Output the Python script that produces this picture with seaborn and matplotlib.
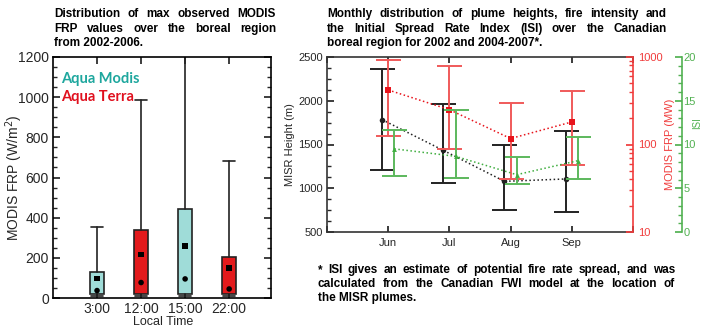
import numpy as np
import pandas as pd
import matplotlib
matplotlib.use('Agg')
import matplotlib.pyplot as plt
from matplotlib.ticker import MultipleLocator, FixedLocator, LogLocator, NullFormatter
import seaborn as sns

# left panel: max FRP box statistics per overpass time
times = ['3:00', '12:00', '15:00', '22:00']
sensor = ['Aqua Modis', 'Aqua Terra', 'Aqua Modis', 'Aqua Terra']
frp_whislo = [8, 8, 8, 8]
frp_q1 = [18, 18, 20, 18]
frp_q3 = [130, 338, 444, 203]
frp_whishi = [355, 985, 1300, 680]
frp_mean = [98, 216, 258, 150]
frp_median = [37, 77, 95, 45]

# right panel: monthly values with error ranges
months = ['Jun', 'Jul', 'Aug', 'Sep']
misr_mean = [1784, 1433, 1079, 1106]
misr_lo = [1209, 1060, 748, 725]
misr_hi = [2363, 1967, 1498, 1650]
modis_mean = [420, 250, 117, 181]
modis_lo = [124, 90, 40, 59]
modis_hi = [916, 782, 295, 408]
isi_mean = [9.5, 8.65, 6.55, 8.15]
isi_lo = [6.4, 6.2, 5.5, 6.1]
isi_hi = [11.7, 13.9, 8.6, 10.9]

left_title = ['Distribution of max observed MODIS',
              'FRP values over the boreal region',
              'from 2002-2006.']
right_title = ['Monthly distribution of plume heights, fire intensity and',
               'the Initial Spread Rate Index (ISI) over the Canadian',
               'boreal region for 2002 and 2004-2007*.']
footnote = ['* ISI gives an estimate of potential fire rate spread, and was',
            'calculated from the Canadian FWI model at the location of',
            'the MISR plumes.']

TEAL = '#9fdcd8'
RED = '#e31a1c'
TEAL_TXT = '#1ea79e'
RED_TXT = '#e0101e'
FRP_RED = '#f03c3c'
ISI_GREEN = '#52b152'

sns.set_theme(style='ticks')
plt.rcParams['font.family'] = ['Liberation Sans', 'DejaVu Sans']
plt.rcParams['xtick.direction'] = 'in'
plt.rcParams['ytick.direction'] = 'in'

W, H = 701, 329
fig = plt.figure(figsize=(W / 100, H / 100), dpi=100)


def px_axes(x0, y0, x1, y1):
    return fig.add_axes([x0 / W, 1 - y1 / H, (x1 - x0) / W, (y1 - y0) / H])


def justify(lines, x0, x1, ys, size=8.5):
    r = fig.canvas.get_renderer()
    for i, (line, y) in enumerate(zip(lines, ys)):
        kw = dict(fontsize=size, fontweight='bold', va='center', color='black')
        if i == len(lines) - 1:
            fig.text(x0 / W, 1 - y / H, line, **kw)
            continue
        words = line.split()
        ts = [fig.text(0, 1 - y / H, w, **kw) for w in words]
        widths = [t.get_window_extent(r).width for t in ts]
        gap = (x1 - x0 - sum(widths)) / (len(words) - 1)
        x = x0
        for t, w in zip(ts, widths):
            t.set_x(x / W)
            x += w + gap


# ---------- left panel ----------
ax = px_axes(53, 57, 271, 298)
pos = np.arange(len(times))
stats = [dict(whislo=a, q1=b, med=m, q3=c, whishi=d, fliers=[])
         for a, b, m, c, d in zip(frp_whislo, frp_q1, frp_median, frp_q3, frp_whishi)]
boxes = ax.bxp(stats, positions=pos, widths=0.32, capwidths=0.28, patch_artist=True,
               showfliers=False,
               boxprops=dict(edgecolor='#222222', linewidth=1.2),
               whiskerprops=dict(color='#222222', linewidth=1.2),
               capprops=dict(color='#222222', linewidth=1.2),
               medianprops=dict(linewidth=0))
for patch, s in zip(boxes['boxes'], sensor):
    patch.set_facecolor(TEAL if s == 'Aqua Modis' else RED)

pts = pd.DataFrame({'pos': pos, 'mean': frp_mean, 'median': frp_median})
sns.scatterplot(data=pts, x='pos', y='mean', marker='s', s=16, color='black',
                edgecolor='none', ax=ax, zorder=5)
sns.scatterplot(data=pts, x='pos', y='median', marker='o', s=16, color='black',
                edgecolor='none', ax=ax, zorder=5)

ax.set_xlim(-1, 3.95)
ax.set_ylim(0, 1200)
ax.set_xticks(pos)
ax.set_xticklabels(times, fontsize=10)
ax.yaxis.set_major_locator(MultipleLocator(200))
ax.yaxis.set_minor_locator(MultipleLocator(50))
ax.tick_params(axis='y', labelsize=10, right=True, which='both', pad=3)
ax.tick_params(axis='y', which='major', length=5)
ax.tick_params(axis='y', which='minor', length=3)
ax.tick_params(axis='x', top=True, length=5, pad=3)
ax.set_ylabel('MODIS FRP (W/m$^2$)', fontsize=10)
ax.yaxis.set_label_coords(-0.128, 0.5)
ax.set_xlabel('Local Time', fontsize=9)
ax.xaxis.set_label_coords(0.505, -0.076)
for sp in ax.spines.values():
    sp.set_color('black')
    sp.set_linewidth(1.2)
ax.text(0.037, 0.909, 'Aqua Modis', transform=ax.transAxes, color=TEAL_TXT,
        fontsize=10.5, fontweight='bold', family='Lato', va='center')
ax.text(0.037, 0.834, 'Aqua Terra', transform=ax.transAxes, color=RED_TXT,
        fontsize=10.5, fontweight='bold', family='Lato', va='center')

# ---------- right panel ----------
ax1 = px_axes(327, 57, 633, 232)
ax2 = ax1.twinx()
ax3 = ax1.twinx()
mpos = np.arange(len(months))
dodge = {'misr': -0.1, 'modis': 0.0, 'isi': 0.1}

ax2.set_yscale('log')
series = [
    (ax1, dodge['misr'], misr_mean, misr_lo, misr_hi, '#222222', '#222222', 'o', 4),
    (ax2, dodge['modis'], modis_mean, modis_lo, modis_hi, '#f05a5a', '#e8141c', 's', 4.5),
    (ax3, dodge['isi'], isi_mean, isi_lo, isi_hi, '#5cb85c', '#3fae3f', '^', 3.5),
]
for a, dx, mean, lo, hi, ecol, mcol, mk, ms in series:
    x = mpos + dx
    mean = np.array(mean)
    yerr = [mean - np.array(lo), np.array(hi) - mean]
    a.errorbar(x, mean, yerr=yerr, fmt='none', ecolor=ecol, elinewidth=1.4,
               capsize=9, capthick=1.4, zorder=2)
    sns.lineplot(x=x, y=mean, ax=a, color=mcol, linestyle=':', linewidth=1.1,
                 marker=mk, markersize=ms, markeredgewidth=0, zorder=3)

ax1.set_xlim(-1, 4)
ax1.set_ylim(500, 2500)
ax1.xaxis.set_major_locator(FixedLocator(range(-1, 5)))
ax1.set_xticklabels([''] + months + [''], fontsize=8)
ax1.tick_params(axis='x', top=True, length=4, pad=4, color='#222222')
ax1.yaxis.set_major_locator(MultipleLocator(500))
ax1.yaxis.set_minor_locator(MultipleLocator(125))
ax1.tick_params(axis='y', which='both', labelsize=8, pad=3)
ax1.tick_params(axis='y', which='major', length=5)
ax1.tick_params(axis='y', which='minor', length=3)
ax1.set_ylabel('MISR Height (m)', fontsize=8)
ax1.yaxis.set_label_coords(-0.105, 0.5)
for name, sp in ax1.spines.items():
    sp.set_color('#333333')
    sp.set_linewidth(1.2)
ax1.spines['right'].set_visible(False)

ax2.set_ylim(10, 1000)
ax2.yaxis.set_major_locator(LogLocator(base=10))
ax2.yaxis.set_minor_locator(LogLocator(base=10, subs=np.arange(2, 10)))
ax2.yaxis.set_minor_formatter(NullFormatter())
ax2.set_yticks([10, 100, 1000])
ax2.set_yticklabels(['10', '100', '1000'])
ax2.tick_params(axis='y', which='both', colors=FRP_RED, labelsize=8, pad=4)
ax2.tick_params(axis='y', which='major', length=5)
ax2.tick_params(axis='y', which='minor', length=3)
ax2.spines['right'].set_color(FRP_RED)
ax2.spines['right'].set_linewidth(1.2)
for n in ['left', 'top', 'bottom']:
    ax2.spines[n].set_visible(False)
ax2.set_ylabel('MODIS FRP (MW)', fontsize=8, color=FRP_RED)
ax2.yaxis.set_label_coords(1.105, 0.5)

ax3.set_ylim(0, 20)
ax3.spines['right'].set_position(('axes', 1 + 49 / 306))
ax3.spines['right'].set_color(ISI_GREEN)
ax3.spines['right'].set_linewidth(1.2)
for n in ['left', 'top', 'bottom']:
    ax3.spines[n].set_visible(False)
ax3.yaxis.set_major_locator(MultipleLocator(5))
ax3.yaxis.set_minor_locator(MultipleLocator(1))
ax3.tick_params(axis='y', which='both', colors=ISI_GREEN, labelsize=8, pad=1)
ax3.tick_params(axis='y', which='major', length=5)
ax3.tick_params(axis='y', which='minor', length=3)
ax3.set_ylabel('ISI', fontsize=7, color=ISI_GREEN)
ax3.yaxis.set_label_coords((692.5 - 327) / 306, 0.62)

# ---------- titles and note ----------
justify(left_title, 54, 276, [14.3, 29, 43])
justify(right_title, 327, 667, [14.3, 29, 43])
justify(footnote, 318, 675, [270, 284, 298])

fig.savefig('out.png', dpi=100)
